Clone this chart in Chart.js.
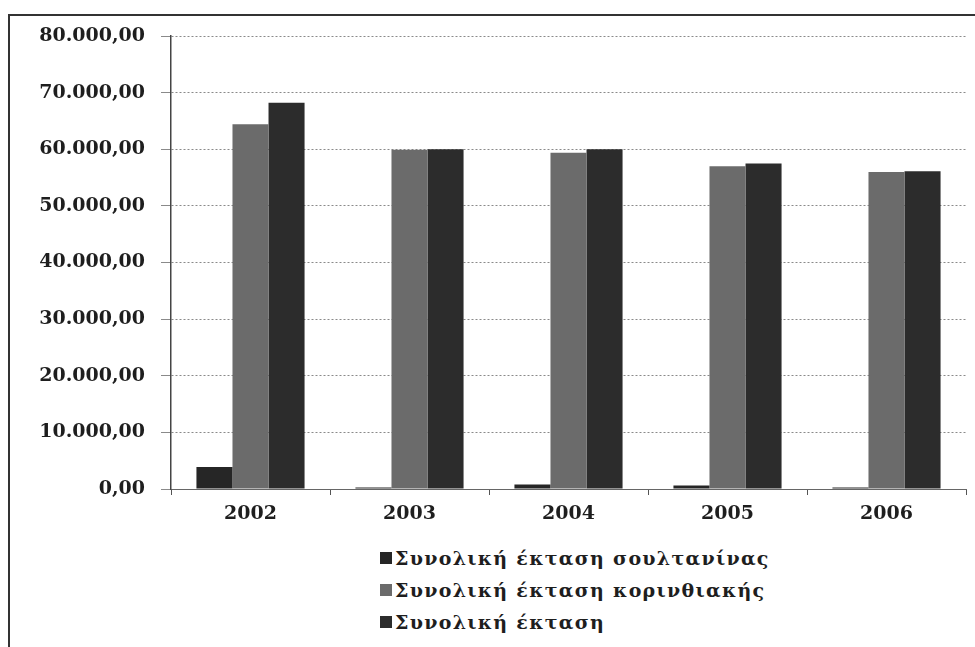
<!DOCTYPE html>
<html>
<head>
<meta charset="utf-8">
<script src="https://cdn.jsdelivr.net/npm/chart.js@4"></script>
<style>
  html, body { margin: 0; padding: 0; background: #fff; }
  body { width: 975px; height: 647px; position: relative; overflow: hidden; }
  #frame { position: absolute; left: 8px; top: 14px; width: 980px; height: 640px;
           border-left: 2px solid #333; border-top: 2px solid #333; }
  #wrap { position: absolute; left: 0; top: 0; width: 975px; height: 540px; }
  #legend { position: absolute; left: 380px; top: 542px; font-family: "DejaVu Serif", serif;
            font-weight: bold; font-size: 19px; letter-spacing: 1.3px; color: #1e1e1e; }
  #legend div { height: 32px; line-height: 32px; white-space: nowrap; }
  #legend span.box { display: inline-block; width: 12px; height: 12px; margin-right: 3px; vertical-align: 1px; }
</style>
</head>
<body>
<div id="frame"></div>
<div id="wrap"><canvas id="myChart"></canvas></div>
<div id="legend"></div>
<script>
const years = ["2002", "2003", "2004", "2005", "2006"];
const soultanina = [3900, 250, 800, 600, 250];
const korinthiaki = [64400, 59900, 59400, 57000, 56000];
const synoliki = [68200, 60000, 60000, 57500, 56100];
const seriesNames = [
  "Συνολική έκταση σουλτανίνας",
  "Συνολική έκταση κορινθιακής",
  "Συνολική έκταση",
];
const colors = ["#262626", "#6b6b6b", "#2c2c2c"];

const fmt = (v) => {
  const s = Math.round(v).toString().replace(/\B(?=(\d{3})+(?!\d))/g, ".");
  return s + ",00";
};

const ctx = document.getElementById("myChart").getContext("2d");
const chart = new Chart(ctx, {
  type: "bar",
  data: {
    labels: years,
    datasets: [
      { label: seriesNames[0], data: soultanina, backgroundColor: colors[0] },
      { label: seriesNames[1], data: korinthiaki, backgroundColor: colors[1] },
      { label: seriesNames[2], data: synoliki, backgroundColor: colors[2] },
    ],
  },
  options: {
    responsive: true,
    maintainAspectRatio: false,
    animation: false,
    layout: { padding: { top: 36, right: 9, left: 0, bottom: 0 } },
    datasets: { bar: { categoryPercentage: 0.68, barPercentage: 1.0 } },
    plugins: { legend: { display: false }, tooltip: { enabled: false } },
    scales: {
      x: {
        grid: { drawOnChartArea: false, drawTicks: true, tickLength: 6, color: "#555" },
        border: { color: "#666", width: 1 },
        ticks: {
          color: "#1e1e1e",
          padding: 8,
          font: { family: "DejaVu Serif", weight: "bold", size: 19 },
        },
        afterFit: (scale) => { scale.height = 51; },
      },
      y: {
        min: 0,
        max: 80000,
        ticks: {
          stepSize: 10000,
          color: "#1e1e1e",
          padding: 16,
          font: { family: "DejaVu Serif", weight: "bold", size: 19 },
          callback: (v) => fmt(v),
        },
        grid: { color: "#8a8a8a", tickLength: 10 },
        border: { color: "#444", width: 1.5, dash: [2, 2] },
        afterFit: (scale) => { scale.width = 171; },
      },
    },
  },
});

// legend, stacked vertically as in the reference
const legend = document.getElementById("legend");
chart.data.datasets.forEach((ds) => {
  const row = document.createElement("div");
  const box = document.createElement("span");
  box.className = "box";
  box.style.background = ds.backgroundColor;
  row.appendChild(box);
  row.appendChild(document.createTextNode(ds.label));
  legend.appendChild(row);
});
</script>
</body>
</html>
